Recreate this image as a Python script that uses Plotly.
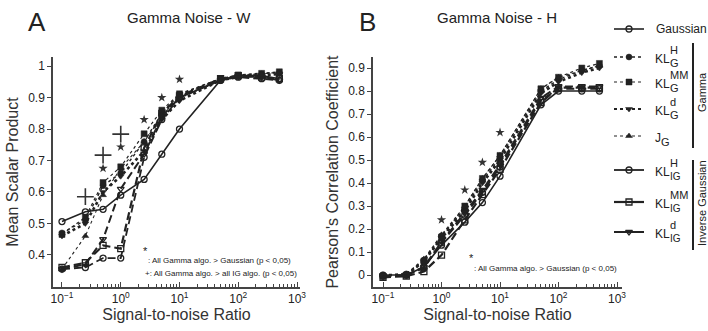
import plotly.graph_objects as go

# ---------------- data ----------------
snr = [0.1, 0.25, 0.5, 1, 2.5, 5, 10, 50, 100, 250, 500]

# Panel A: Mean Scalar Product
a_gauss = [0.506, 0.537, 0.545, 0.59, 0.64, 0.72, 0.80, 0.955, 0.97, 0.97, 0.96]
a_klg_h = [0.47, 0.51, 0.62, 0.66, 0.76, 0.85, 0.91, 0.96, 0.97, 0.975, 0.98]
a_klg_mm = [0.465, 0.52, 0.63, 0.68, 0.785, 0.86, 0.912, 0.96, 0.972, 0.977, 0.982]
a_klg_d = [0.46, 0.50, 0.60, 0.65, 0.73, 0.83, 0.89, 0.955, 0.965, 0.97, 0.975]
a_jg = [0.355, 0.46, 0.59, 0.675, 0.76, 0.84, 0.905, 0.96, 0.97, 0.975, 0.98]
a_klig_h = [0.355, 0.36, 0.39, 0.39, 0.71, 0.83, 0.90, 0.955, 0.965, 0.96, 0.955]
a_klig_mm = [0.36, 0.375, 0.43, 0.42, 0.74, 0.85, 0.905, 0.96, 0.97, 0.965, 0.96]
a_klig_d = [0.355, 0.37, 0.45, 0.61, 0.72, 0.84, 0.90, 0.955, 0.968, 0.965, 0.955]

a_star_x = [0.5, 1, 2.5, 5, 10]
a_star_y = [0.675, 0.743, 0.83, 0.90, 0.958]
a_plus_x = [0.25, 0.5, 1]
a_plus_y = [0.585, 0.717, 0.784]

# Panel B: Pearson's Correlation Coefficient
b_gauss = [0.0, 0.0, 0.035, 0.13, 0.23, 0.315, 0.43, 0.74, 0.80, 0.80, 0.80]
b_klg_h = [0.0, 0.005, 0.065, 0.17, 0.29, 0.41, 0.51, 0.80, 0.85, 0.89, 0.91]
b_klg_mm = [-0.005, 0.0, 0.06, 0.165, 0.30, 0.42, 0.52, 0.81, 0.86, 0.90, 0.92]
b_klg_d = [0.0, 0.0, 0.06, 0.16, 0.28, 0.40, 0.50, 0.79, 0.84, 0.88, 0.90]
b_jg = [0.0, 0.005, 0.07, 0.175, 0.30, 0.42, 0.52, 0.81, 0.86, 0.89, 0.91]
b_klig_h = [-0.005, 0.0, 0.03, 0.14, 0.26, 0.36, 0.47, 0.76, 0.81, 0.81, 0.81]
b_klig_mm = [-0.01, -0.005, 0.015, 0.087, 0.24, 0.35, 0.46, 0.75, 0.815, 0.815, 0.815]
b_klig_d = [-0.005, 0.0, 0.035, 0.145, 0.27, 0.37, 0.48, 0.77, 0.82, 0.82, 0.82]

b_star_x = [1, 2.5, 5, 10]
b_star_y = [0.24, 0.37, 0.49, 0.62]

x_tickvals = [0.1, 1, 10, 100, 1000]
x_ticktext = ["10<sup>\u22121</sup>", "10<sup>0</sup>", "10<sup>1</sup>", "10<sup>2</sup>", "10<sup>3</sup>"]
x_minorvals = [m * d for d in (0.1, 1, 10, 100) for m in range(2, 10)]
a_yticks = [0.4, 0.5, 0.6, 0.7, 0.8, 0.9, 1]
a_yticktext = ["0.4", "0.5", "0.6", "0.7", "0.8", "0.9", "1"]
b_yticks = [0, 0.1, 0.2, 0.3, 0.4, 0.5, 0.6, 0.7, 0.8, 0.9]
b_yticktext = ["0", "0.1", "0.2", "0.3", "0.4", "0.5", "0.6", "0.7", "0.8", "0.9"]

# series styles: name, sup, sub, marker symbol, dash, width
series = [
    ("Gaussian", None, None, "circle-open", "solid", 1.6),
    ("KL", "H", "G", "circle", "dot", 1.4),
    ("KL", "MM", "G", "square", "dot", 1.2),
    ("KL", "d", "G", "triangle-down", "dot", 2.6),
    ("J", None, "G", "triangle-up", "dot", 1.1),
    ("KL", "H", "IG", "circle-open", "8px,4px", 1.8),
    ("KL", "MM", "IG", "square-open", "8px,4px", 2.2),
    ("KL", "d", "IG", "triangle-down-open", "8px,4px", 2.0),
]
a_data = [a_gauss, a_klg_h, a_klg_mm, a_klg_d, a_jg, a_klig_h, a_klig_mm, a_klig_d]
b_data = [b_gauss, b_klg_h, b_klg_mm, b_klg_d, b_jg, b_klig_h, b_klig_mm, b_klig_d]
legend_y = [29, 57, 82, 109, 136, 170, 202, 232]

INK = "#222222"
FONT = "Liberation Sans"

fig = go.Figure()

def marker_for(sym, size=6):
    if sym.endswith("open"):
        return dict(symbol=sym, size=size, color=INK, line=dict(color=INK, width=1.3))
    return dict(symbol=sym, size=size, color=INK, line=dict(color=INK, width=0.5))

def add_series(data, xa, ya):
    for (nm, sup, sub, sym, dash, w), ys in zip(series, data):
        fig.add_trace(go.Scatter(
            x=snr, y=ys, xaxis=xa, yaxis=ya, mode="lines+markers",
            line=dict(color=INK, width=w, dash=dash),
            marker=marker_for(sym), showlegend=False, hoverinfo="skip"))

add_series(a_data, "x", "y")
add_series(b_data, "x2", "y2")

fig.add_trace(go.Scatter(x=a_star_x, y=a_star_y, xaxis="x", yaxis="y", mode="markers",
                         marker=dict(symbol="star", size=7, color="#333"), showlegend=False))
fig.add_trace(go.Scatter(x=a_plus_x, y=a_plus_y, xaxis="x", yaxis="y", mode="markers",
                         marker=dict(symbol="cross-thin-open", size=12, color="#333",
                                     line=dict(color="#333", width=1.6)),
                         showlegend=False))
fig.add_trace(go.Scatter(x=b_star_x, y=b_star_y, xaxis="x2", yaxis="y2", mode="markers",
                         marker=dict(symbol="star", size=7, color="#333"), showlegend=False))

# legend drawn on a pixel-coordinate helper axis
for (nm, sup, sub, sym, dash, w), ly in zip(series, legend_y):
    fig.add_trace(go.Scatter(x=[614, 644], y=[ly, ly], xaxis="x3", yaxis="y3", mode="lines",
                             line=dict(color=INK, width=min(w, 2.2), dash=dash if dash != "8px,4px" else "solid"),
                             showlegend=False, hoverinfo="skip"))
    fig.add_trace(go.Scatter(x=[629], y=[ly], xaxis="x3", yaxis="y3", mode="markers",
                             marker=marker_for(sym, 6), showlegend=False, hoverinfo="skip"))

W, H = 708, 331
def px(x):
    return x / W
def py(y):
    return 1 - y / H

def ax_common():
    return dict(showline=True, linecolor="#444", linewidth=1.5, showgrid=False, zeroline=False,
                tickfont=dict(family=FONT, size=12, color="#222"), automargin=False)

xdom_a = [px(53), px(300)]
xdom_b = [px(373), px(622)]
ydom = [py(287), py(57)]
tf = dict(family=FONT, size=16, color="#333")

fig.update_layout(
    width=W, height=H, margin=dict(l=0, r=0, t=0, b=0),
    paper_bgcolor="white", plot_bgcolor="rgba(0,0,0,0)",
    font=dict(family=FONT, color="#333"),
    xaxis=dict(domain=xdom_a, type="log", range=[-1.153, 3.051], tickmode="array",
               tickvals=x_tickvals, ticktext=x_ticktext,
               ticks="inside", ticklen=5, tickcolor="#444",
               minor=dict(ticks="inside", ticklen=3, tickcolor="#444", showgrid=False,
                          tickmode="array", tickvals=x_minorvals),
               title=dict(text="Signal-to-noise Ratio", standoff=3, font=tf), anchor="y", **ax_common()),
    yaxis=dict(domain=ydom, range=[0.298, 1.029], tickmode="array", tickvals=a_yticks, ticktext=a_yticktext,
               ticks="outside", ticklen=4, tickcolor="#444",
               title=dict(text="Mean Scalar Product", standoff=6, font=tf), anchor="x", **ax_common()),
    xaxis2=dict(domain=xdom_b, type="log", range=[-1.171, 3.085], tickmode="array",
                tickvals=x_tickvals, ticktext=x_ticktext,
                ticks="inside", ticklen=5, tickcolor="#444",
                minor=dict(ticks="inside", ticklen=3, tickcolor="#444", showgrid=False,
                           tickmode="array", tickvals=x_minorvals),
                title=dict(text="Signal-to-noise Ratio", standoff=3, font=tf), anchor="y2", **ax_common()),
    yaxis2=dict(domain=ydom, range=[-0.052, 0.948], tickmode="array", tickvals=b_yticks, ticktext=b_yticktext,
                ticks="outside", ticklen=4, tickcolor="#444",
                title=dict(text="Pearson's Correlation Coefficient", standoff=6, font=tf), anchor="x2", **ax_common()),
    xaxis3=dict(domain=[0, 1], range=[0, W], visible=False, fixedrange=True, anchor="y3"),
    yaxis3=dict(domain=[0, 1], range=[H, 0], visible=False, fixedrange=True, anchor="x3"),
)

ann = []
def text(x, y, s, size=12, xanchor="left", angle=0, color="#222"):
    ann.append(dict(x=px(x), y=py(y), xref="paper", yref="paper", text=s, showarrow=False,
                    xanchor=xanchor, yanchor="middle", textangle=angle,
                    font=dict(family=FONT, size=size, color=color)))

text(37, 22, "A", 26, "center")
text(367, 22, "B", 26, "center")
text(189, 17, "Gamma Noise - W", 15, "center")
text(497, 17, "Gamma Noise - H", 15, "center")

text(145, 251, "*", 11, "center")
text(146, 260, ": All Gamma algo. > Gaussian (p < 0,05)", 8)
text(143, 273, "+: All Gamma algo. > all IG algo. (p < 0,05)", 8)
text(471, 258, "*", 11, "center")
text(472, 268, ": All Gamma algo. > Gaussian (p < 0,05)", 8)

for (nm, sup, sub, sym, dash, w), ly in zip(series, legend_y):
    if nm == "Gaussian":
        text(654, ly, "Gaussian", 12)
        continue
    base_x = 653
    text(base_x, ly + 2, nm, 12)
    off = 15 if nm == "KL" else 6
    if sup:
        text(base_x + off, ly - 7, sup, 11)
    if sub:
        text(base_x + off, ly + 6, sub, 11 if sub == "G" else 10)

text(702, 92, "Gamma", 11, "center", -90)
text(702, 203, "Inverse Gaussian", 11, "center", -90)
fig.update_layout(annotations=ann)

fig.add_shape(type="line", xref="paper", yref="paper", x0=px(693), x1=px(693), y0=py(43), y1=py(148),
              line=dict(color=INK, width=2))
fig.add_shape(type="line", xref="paper", yref="paper", x0=px(693), x1=px(693), y0=py(160), y1=py(250),
              line=dict(color=INK, width=2))

fig.write_html("out.html")
